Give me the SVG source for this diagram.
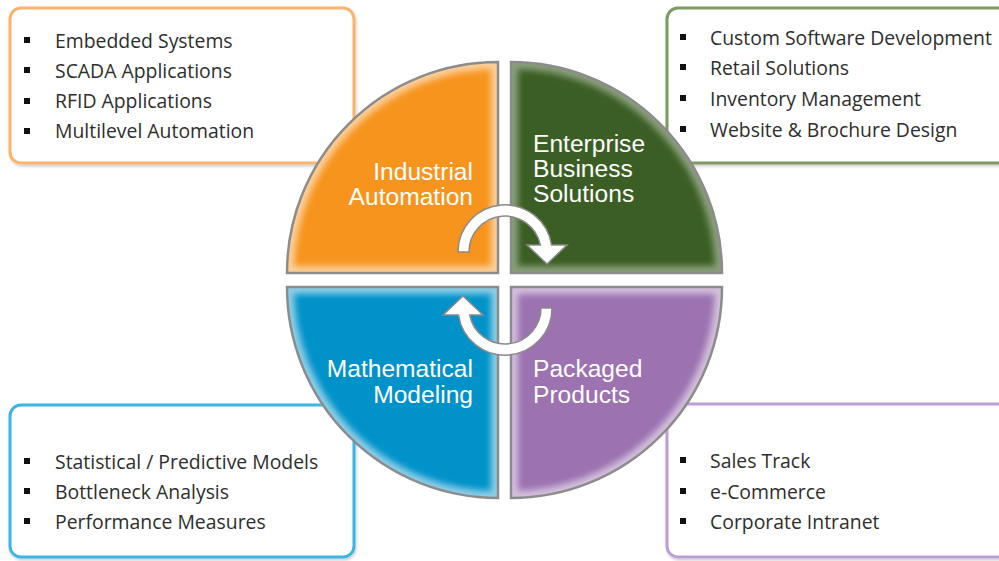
<svg xmlns="http://www.w3.org/2000/svg" width="999" height="561" viewBox="0 0 999 561">
<style>
.box{fill:#fff;stroke-width:3}
.item{font-family:"Open Sans","Noto Sans",sans-serif;font-size:19.4px;fill:#2e2e2e}
.bul{fill:#111}
.lbl{font-family:"Liberation Sans",Arial,sans-serif;font-size:24.6px;fill:#fff}
.edge{fill:none;stroke:#8c8c8c;stroke-width:2.5}
.glow{fill:none;stroke:#fff;stroke-width:14;stroke-opacity:0.55;filter:url(#blur)}
.arrow{fill:#fff;stroke:#8a8a8a;stroke-width:1.5}
</style>
<defs>
<filter id="blur" x="-10%" y="-10%" width="120%" height="120%"><feGaussianBlur stdDeviation="3"/></filter>
<filter id="sh" x="-5%" y="-5%" width="110%" height="115%"><feDropShadow dx="1" dy="2" stdDeviation="1.5" flood-color="#000" flood-opacity="0.2"/></filter>
<path id="qTL" d="M498 273 L287 273 A211 211 0 0 1 498 62 Z"/>
<path id="qTR" d="M511 273 L511 62 A211 211 0 0 1 722 273 Z"/>
<path id="qBL" d="M498 287 L498 498 A211 211 0 0 1 287 287 Z"/>
<path id="qBR" d="M511 287 L722 287 A211 211 0 0 1 511 498 Z"/>
<clipPath id="cTL"><use href="#qTL"/></clipPath>
<clipPath id="cTR"><use href="#qTR"/></clipPath>
<clipPath id="cBL"><use href="#qBL"/></clipPath>
<clipPath id="cBR"><use href="#qBR"/></clipPath>
</defs>
<rect width="999" height="561" fill="#fff"/>

<g id="box-industrial">
<rect class="box" x="10" y="8" width="344" height="155" rx="11" stroke="#F8B46C" filter="url(#sh)"/>
<rect class="bul" x="24" y="37" width="6" height="6"/><text class="item" x="55" y="48">Embedded Systems</text>
<rect class="bul" x="24" y="67" width="6" height="6"/><text class="item" x="55" y="78">SCADA Applications</text>
<rect class="bul" x="24" y="98" width="6" height="6"/><text class="item" x="55" y="108">RFID Applications</text>
<rect class="bul" x="24" y="128" width="6" height="6"/><text class="item" x="55" y="138">Multilevel Automation</text>
</g>
<g id="box-enterprise">
<rect class="box" x="667" y="8" width="345" height="155" rx="11" stroke="#7C9A62" filter="url(#sh)"/>
<rect class="bul" x="680" y="34" width="6" height="6"/><text class="item" x="710" y="45">Custom Software Development</text>
<rect class="bul" x="680" y="64" width="6" height="6"/><text class="item" x="710" y="75">Retail Solutions</text>
<rect class="bul" x="680" y="95" width="6" height="6"/><text class="item" x="710" y="106">Inventory Management</text>
<rect class="bul" x="680" y="126" width="6" height="6"/><text class="item" x="710" y="137">Website &amp; Brochure Design</text>
</g>
<g id="box-mathematical">
<rect class="box" x="10" y="405" width="344" height="152" rx="11" stroke="#3CB4E2" filter="url(#sh)"/>
<rect class="bul" x="24" y="458" width="6" height="6"/><text class="item" x="55" y="469">Statistical / Predictive Models</text>
<rect class="bul" x="24" y="488" width="6" height="6"/><text class="item" x="55" y="499">Bottleneck Analysis</text>
<rect class="bul" x="24" y="518" width="6" height="6"/><text class="item" x="55" y="529">Performance Measures</text>
</g>
<g id="box-packaged">
<rect class="box" x="667" y="404" width="345" height="153" rx="11" stroke="#BB9ED4" filter="url(#sh)"/>
<rect class="bul" x="680" y="457" width="6" height="6"/><text class="item" x="710" y="468">Sales Track</text>
<rect class="bul" x="680" y="488" width="6" height="6"/><text class="item" x="710" y="499">e-Commerce</text>
<rect class="bul" x="680" y="518" width="6" height="6"/><text class="item" x="710" y="529">Corporate Intranet</text>
</g>

<g id="industrial-automation">
<use href="#qTL" fill="#F7941E"/>
<g clip-path="url(#cTL)"><use href="#qTL" class="glow"/></g>
<use href="#qTL" class="edge"/>
<text class="lbl" text-anchor="end" x="473" y="180">Industrial</text>
<text class="lbl" text-anchor="end" x="473" y="205">Automation</text>
</g>
<g id="enterprise-business-solutions">
<use href="#qTR" fill="#3A5E23"/>
<g clip-path="url(#cTR)"><use href="#qTR" class="glow" style="stroke-opacity:0.4"/></g>
<use href="#qTR" class="edge"/>
<text class="lbl" x="533" y="152">Enterprise</text>
<text class="lbl" x="533" y="177">Business</text>
<text class="lbl" x="533" y="202">Solutions</text>
</g>
<g id="mathematical-modeling">
<use href="#qBL" fill="#0092C9"/>
<g clip-path="url(#cBL)"><use href="#qBL" class="glow"/></g>
<use href="#qBL" class="edge"/>
<text class="lbl" text-anchor="end" x="473" y="377">Mathematical</text>
<text class="lbl" text-anchor="end" x="473" y="403">Modeling</text>
</g>
<g id="packaged-products">
<use href="#qBR" fill="#9C72B1"/>
<g clip-path="url(#cBR)"><use href="#qBR" class="glow"/></g>
<use href="#qBR" class="edge"/>
<text class="lbl" x="533" y="377">Packaged</text>
<text class="lbl" x="533" y="403">Products</text>
</g>

<g id="connectors">
<path class="arrow" d="M458 252 A47 47 0 0 1 551.5 245 L567 245 L547 264 L527 245 L540.3 245 A36 36 0 0 0 469 252 Z"/>
<path class="arrow" transform="rotate(180 505 280)" d="M458 252 A47 47 0 0 1 551.5 245 L567 245 L547 264 L527 245 L540.3 245 A36 36 0 0 0 469 252 Z"/>
</g>
</svg>
